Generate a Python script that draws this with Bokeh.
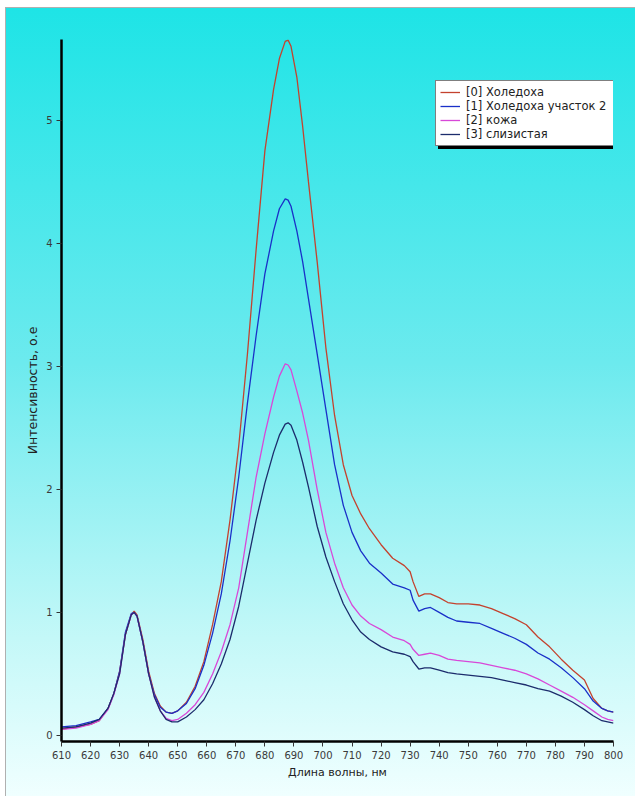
from bokeh.plotting import figure
from bokeh.models import Range1d, Legend, LegendItem
from bokeh.embed import file_html
from bokeh.resources import INLINE

wavelength = [610, 615, 620, 623, 626, 628, 630, 632, 634, 635, 636, 638, 640, 642, 644, 646, 648, 650,
              653, 656, 659, 662, 665, 668, 671, 674, 677, 680, 683, 685, 687, 688, 689, 691, 693, 695,
              698, 701, 704, 707, 710, 713, 716, 720, 724, 728, 730, 731, 733, 735, 737, 740, 743, 746,
              750, 754, 758, 762, 766, 770, 774, 778, 782, 786, 790, 793, 796, 798, 800]

s0_holedoha = [0.05, 0.07, 0.09, 0.12, 0.22, 0.34, 0.52, 0.82, 0.98, 1.01, 0.98, 0.78, 0.52, 0.34, 0.24, 0.19, 0.18, 0.20,
               0.27, 0.40, 0.60, 0.90, 1.25, 1.75, 2.35, 3.10, 3.95, 4.75, 5.25, 5.50, 5.64, 5.65, 5.60, 5.35, 4.95, 4.50,
               3.85, 3.15, 2.60, 2.20, 1.95, 1.80, 1.68, 1.55, 1.44, 1.38, 1.33, 1.25, 1.13, 1.15, 1.15, 1.12, 1.08, 1.07,
               1.07, 1.06, 1.03, 0.99, 0.95, 0.90, 0.80, 0.72, 0.62, 0.53, 0.45, 0.30, 0.22, 0.20, 0.19]

s1_holedoha_2 = [0.07, 0.08, 0.11, 0.13, 0.22, 0.34, 0.52, 0.84, 0.99, 1.00, 0.97, 0.76, 0.50, 0.33, 0.23, 0.19, 0.18, 0.20,
                 0.26, 0.38, 0.57, 0.83, 1.15, 1.58, 2.10, 2.70, 3.25, 3.75, 4.10, 4.28, 4.36, 4.35, 4.30, 4.10, 3.85, 3.55,
                 3.10, 2.65, 2.20, 1.87, 1.65, 1.50, 1.40, 1.32, 1.23, 1.20, 1.18, 1.10, 1.01, 1.03, 1.04, 1.00, 0.96, 0.93,
                 0.92, 0.91, 0.87, 0.83, 0.79, 0.74, 0.67, 0.62, 0.55, 0.47, 0.38, 0.28, 0.22, 0.20, 0.19]

s2_kozha = [0.05, 0.06, 0.09, 0.12, 0.21, 0.33, 0.50, 0.82, 0.98, 1.00, 0.97, 0.76, 0.50, 0.31, 0.20, 0.14, 0.12, 0.13,
            0.18, 0.25, 0.35, 0.50, 0.68, 0.90, 1.20, 1.65, 2.10, 2.45, 2.75, 2.92, 3.02, 3.01, 2.97, 2.80, 2.62, 2.40,
            2.00, 1.65, 1.40, 1.20, 1.06, 0.97, 0.91, 0.86, 0.80, 0.77, 0.74, 0.70, 0.65, 0.66, 0.67, 0.65, 0.62, 0.61,
            0.60, 0.59, 0.57, 0.55, 0.53, 0.50, 0.46, 0.41, 0.36, 0.31, 0.25, 0.20, 0.15, 0.13, 0.12]

s3_slizistaya = [0.06, 0.07, 0.10, 0.13, 0.22, 0.34, 0.50, 0.82, 0.98, 1.00, 0.97, 0.76, 0.50, 0.31, 0.20, 0.13, 0.11, 0.11,
                 0.15, 0.21, 0.29, 0.42, 0.58, 0.78, 1.05, 1.40, 1.75, 2.05, 2.30, 2.44, 2.53, 2.54, 2.52, 2.40, 2.22, 2.02,
                 1.70, 1.45, 1.25, 1.07, 0.94, 0.84, 0.78, 0.72, 0.68, 0.66, 0.64, 0.60, 0.54, 0.55, 0.55, 0.53, 0.51, 0.50,
                 0.49, 0.48, 0.47, 0.45, 0.43, 0.41, 0.38, 0.36, 0.32, 0.27, 0.21, 0.16, 0.12, 0.11, 0.10]

series_names = ["[0] Холедоха", "[1] Холедоха участок 2", "[2] кожа", "[3] слизистая"]
series_colors = ["#c4422e", "#1a30c8", "#d848d8", "#1c2c6c"]
x_ticks = list(range(610, 801, 10))
y_ticks = [0, 1, 2, 3, 4, 5]

FONT = "DejaVu Sans"

p = figure(width=630, height=789, output_backend="svg", toolbar_location=None,
           x_range=Range1d(610, 800), y_range=Range1d(-0.049, 5.655),
           min_border_left=55, min_border_right=23, min_border_top=31, min_border_bottom=56)

p.styles = {"background-image": "linear-gradient(to bottom, #1ee4e6 0%, #6ceaee 45%, #c4f8f8 80%, #f0ffff 100%)",
            "border-left": "1px solid #b0b0b0", "border-top": "1px solid #b0b0b0",
            "margin-left": "5px", "margin-top": "7px"}
p.background_fill_alpha = 0
p.border_fill_alpha = 0
p.outline_line_color = None
p.grid.visible = False

data = [s0_holedoha, s1_holedoha_2, s2_kozha, s3_slizistaya]
renderers = []
for ys, c in zip(data, series_colors):
    r = p.line(wavelength, ys, line_color=c, line_width=1.3)
    renderers.append(r)

for ax in (p.xaxis[0], p.yaxis[0]):
    ax.axis_line_width = 2.5
    ax.axis_line_color = "black"
    ax.major_tick_line_color = "#333333"
    ax.minor_tick_line_color = "#333333"
    ax.major_tick_in = 0
    ax.minor_tick_in = 0
    ax.major_label_text_font = FONT
    ax.major_label_text_font_size = "10px"
    ax.major_label_text_color = "#3a3a3a"
    ax.axis_label_text_font = FONT
    ax.axis_label_text_font_style = "normal"
    ax.axis_label_text_color = "#222222"

p.xaxis.ticker = x_ticks
p.xaxis[0].ticker.num_minor_ticks = 5
p.xaxis.major_tick_out = 5
p.xaxis.minor_tick_out = 3
p.xaxis.major_label_standoff = 4
p.xaxis.axis_label = "Длина волны, нм"
p.xaxis.axis_label_text_font_size = "11px"
p.xaxis.axis_label_standoff = 4

p.yaxis.ticker = y_ticks
p.yaxis[0].ticker.num_minor_ticks = 4
p.yaxis.major_tick_out = 5
p.yaxis.minor_tick_out = 3
p.yaxis.major_label_standoff = 4
p.yaxis.axis_label = "Интенсивность, о.е"
p.yaxis.axis_label_text_font_size = "12.5px"
p.yaxis.axis_label_standoff = 3

legend_kw = dict(label_text_font=FONT, label_text_font_size="11.5px",
                 glyph_width=20, glyph_height=12, label_height=12, label_width=146,
                 spacing=0, padding=4, margin=0, label_standoff=6, border_line_width=1)

shadow_items = [LegendItem(label=" ", renderers=[r]) for r in renderers]
shadow = Legend(items=shadow_items, location=(377, 592), label_text_color="black",
                border_line_color="black", background_fill_color="black",
                background_fill_alpha=1, **legend_kw)
items = [LegendItem(label=n, renderers=[r]) for n, r in zip(series_names, renderers)]
legend = Legend(items=items, location=(374, 595), label_text_color="#222222",
                border_line_color="black", background_fill_color="white",
                background_fill_alpha=1, **legend_kw)
p.add_layout(shadow, "center")
p.add_layout(legend, "center")

open("out.html", "w").write(file_html(p, INLINE))
